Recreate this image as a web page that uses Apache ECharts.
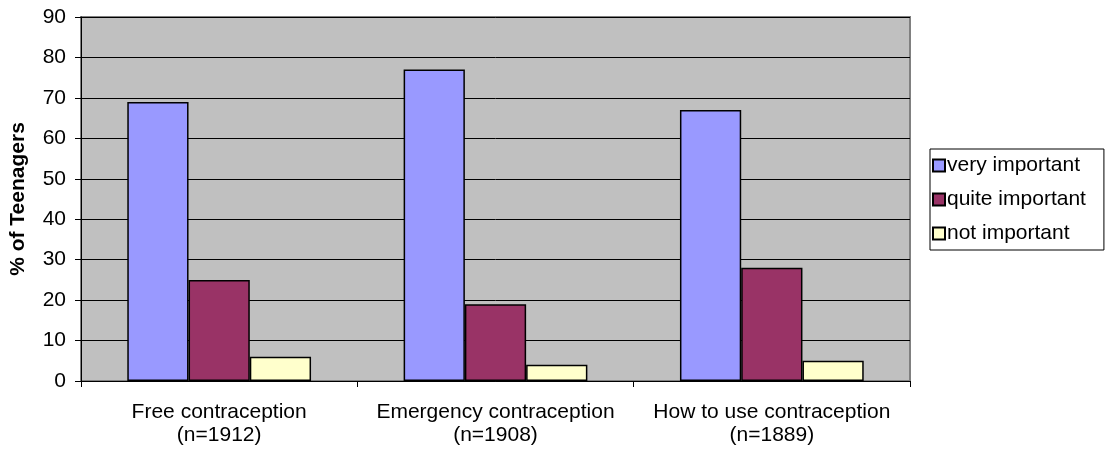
<!DOCTYPE html>
<html>
<head>
<meta charset="utf-8">
<script src="https://cdn.jsdelivr.net/npm/echarts@6/dist/echarts.min.js"></script>
<style>html,body{margin:0;padding:0;background:#fff}#c{width:1109px;height:452px}</style>
</head>
<body>
<div id="c"></div>
<script>
var categories = ['Free contraception\n(n=1912)', 'Emergency contraception\n(n=1908)', 'How to use contraception\n(n=1889)'];
var seriesNames = ['very important', 'quite important', 'not important'];
var veryImportant = [69, 77, 67];
var quiteImportant = [25, 19, 28];
var notImportant = [6, 4, 5];
var colors = ['#9999FF', '#993366', '#FFFFCC'];

var font = 'Liberation Sans, Arial, sans-serif';
var chart = echarts.init(document.getElementById('c'), null, {renderer: 'canvas'});
var values = [veryImportant, quiteImportant, notImportant];
chart.setOption({
  animation: false,
  grid: {left: 81, right: 199, top: 17, bottom: 71, show: true, backgroundColor: '#C0C0C0', borderColor: '#808080', borderWidth: 2, containLabel: false, outerBoundsMode: 'none'},
  legend: {
    orient: 'vertical', left: 930, top: 149,
    data: seriesNames,
    backgroundColor: '#fff', borderColor: '#000', borderWidth: 1,
    padding: [6, 18, 6, 2],
    itemWidth: 12, itemHeight: 12, itemGap: 13,
    icon: 'rect',
    textStyle: {fontFamily: font, fontSize: 21, color: '#000', padding: [0, 0, 0, -3]}
  },
  xAxis: {
    type: 'category', data: categories,
    axisLine: {lineStyle: {color: '#000', width: 1}},
    axisTick: {show: true, length: 6, lineStyle: {color: '#000'}},
    axisLabel: {fontFamily: font, fontSize: 21, color: '#000', lineHeight: 23, margin: 20, interval: 0},
    splitLine: {show: false}
  },
  yAxis: {
    type: 'value', min: 0, max: 90, interval: 10,
    name: '% of Teenagers', nameLocation: 'middle', nameGap: 52, nameRotate: 90,
    nameTextStyle: {fontFamily: font, fontSize: 21, fontWeight: 'bold', color: '#000'},
    axisLine: {show: true, lineStyle: {color: '#000', width: 1}},
    axisTick: {show: true, length: 6, lineStyle: {color: '#000'}},
    axisLabel: {fontFamily: font, fontSize: 21, color: '#000', margin: 15},
    splitLine: {show: true, lineStyle: {color: '#000', width: 1}}
  },
  series: seriesNames.map(function (n, i) {
    return {
      name: n, type: 'bar', data: values[i],
      barGap: '0%', barCategoryGap: '33.5%',
      itemStyle: {color: colors[i], borderColor: '#000', borderWidth: 1.5}
    };
  })
});
</script>
</body>
</html>
